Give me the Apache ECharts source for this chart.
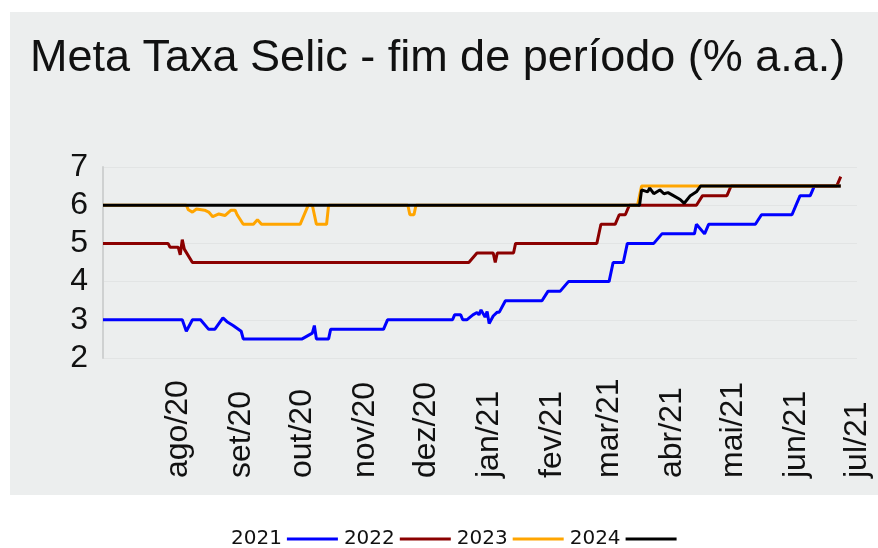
<!DOCTYPE html>
<html>
<head>
<meta charset="utf-8">
<script src="https://cdn.jsdelivr.net/npm/echarts@6/dist/echarts.min.js"></script>
<style>
  html, body { margin: 0; padding: 0; background: #ffffff; }
  #bg { position: absolute; left: 10px; top: 12px; width: 868px; height: 483px; background: #eceeee; }
  #chart { position: absolute; left: 0; top: 0; width: 878px; height: 548px; }
</style>
</head>
<body>
<div id="bg"></div>
<div id="chart"></div>
<script>
// month tick labels
const monthTicks = ['2020-08-01', '2020-09-01', '2020-10-01', '2020-11-01', '2020-12-01', '2021-01-01',
  '2021-02-01', '2021-03-01', '2021-04-01', '2021-05-01', '2021-06-01', '2021-07-01'];
const monthLabels = ['ago/20', 'set/20', 'out/20', 'nov/20', 'dez/20', 'jan/21',
  'fev/21', 'mar/21', 'abr/21', 'mai/21', 'jun/21', 'jul/21'];

const seriesNames = ['2021', '2022', '2023', '2024'];

// 2021
const dates2021 = ['2020-06-25', '2020-08-03', '2020-08-05', '2020-08-08', '2020-08-12', '2020-08-16', '2020-08-19',
  '2020-08-23', '2020-08-25', '2020-08-28', '2020-09-01', '2020-09-02', '2020-10-01', '2020-10-06', '2020-10-07',
  '2020-10-08', '2020-10-14', '2020-10-15', '2020-11-10', '2020-11-12', '2020-12-14', '2020-12-15', '2020-12-18',
  '2020-12-19', '2020-12-21', '2020-12-24', '2020-12-26', '2020-12-27', '2020-12-28', '2020-12-30', '2020-12-31',
  '2021-01-01', '2021-01-03', '2021-01-05', '2021-01-06', '2021-01-09', '2021-01-27', '2021-01-30', '2021-02-05',
  '2021-02-09', '2021-03-01', '2021-03-03', '2021-03-08', '2021-03-10', '2021-03-23', '2021-03-27', '2021-04-12',
  '2021-04-13', '2021-04-17', '2021-04-19', '2021-05-12', '2021-05-15', '2021-05-30', '2021-06-01', '2021-06-03',
  '2021-06-08', '2021-06-10', '2021-06-23'];
const values2021 = [3.0, 3.0, 2.7, 3.0, 3.0, 2.75, 2.75,
  3.05, 2.95, 2.85, 2.7, 2.5, 2.5, 2.65, 2.85,
  2.5, 2.5, 2.75, 2.75, 3.0, 3.0, 3.13, 3.13,
  3.0, 3.0, 3.13, 3.19, 3.13, 3.26, 3.07, 3.22,
  2.9, 3.1, 3.2, 3.2, 3.5, 3.5, 3.75, 3.75,
  4.0, 4.0, 4.5, 4.5, 5.0, 5.0, 5.25, 5.25,
  5.5, 5.25, 5.5, 5.5, 5.75, 5.75, 6.0, 6.25,
  6.25, 6.5, 6.5];

// 2022
const dates2022 = ['2020-06-25', '2020-07-27', '2020-07-28', '2020-08-01', '2020-08-02', '2020-08-03', '2020-08-04',
  '2020-08-08', '2020-12-22', '2020-12-26', '2021-01-03', '2021-01-04', '2021-01-05', '2021-01-13', '2021-01-14',
  '2021-02-23', '2021-02-25', '2021-03-04', '2021-03-06', '2021-03-09', '2021-03-11', '2021-04-13', '2021-04-16',
  '2021-04-28', '2021-04-30', '2021-06-21', '2021-06-23'];
const values2022 = [5.0, 5.0, 4.9, 4.9, 4.7, 5.1, 4.85,
  4.5, 4.5, 4.75, 4.75, 4.5, 4.75, 4.75, 5.0,
  5.0, 5.5, 5.5, 5.75, 5.75, 6.0, 6.0, 6.25,
  6.25, 6.5, 6.5, 6.75];

// 2023
const dates2023 = ['2020-06-25', '2020-08-05', '2020-08-06', '2020-08-08', '2020-08-10', '2020-08-14', '2020-08-16',
  '2020-08-18', '2020-08-21', '2020-08-24', '2020-08-27', '2020-08-29', '2020-08-30', '2020-09-02', '2020-09-07',
  '2020-09-09', '2020-09-11', '2020-09-30', '2020-10-04', '2020-10-06', '2020-10-08', '2020-10-13', '2020-10-14',
  '2020-11-22', '2020-11-23', '2020-11-25', '2020-11-26', '2021-03-15', '2021-03-17', '2021-06-23'];
const values2023 = [6.0, 6.0, 5.88, 5.82, 5.9, 5.87, 5.82,
  5.7, 5.77, 5.73, 5.87, 5.87, 5.75, 5.5, 5.5,
  5.62, 5.5, 5.5, 6.0, 6.0, 5.5, 5.5, 6.0,
  6.0, 5.75, 5.75, 6.0, 6.0, 6.5, 6.5];

// 2024
const dates2024 = ['2020-06-25', '2021-03-16', '2021-03-17', '2021-03-20', '2021-03-21', '2021-03-23', '2021-03-26',
  '2021-03-28', '2021-03-30', '2021-04-01', '2021-04-05', '2021-04-07', '2021-04-10', '2021-04-13', '2021-04-15',
  '2021-06-23'];
const values2024 = [6.0, 6.0, 6.4, 6.35, 6.45, 6.3, 6.4,
  6.3, 6.33, 6.27, 6.15, 6.05, 6.25, 6.35, 6.5,
  6.5];

const colors = ['#0000ff', '#8b0000', '#ffa500', '#000000'];

function toTime(s) {
  const p = s.split('-');
  return Date.UTC(+p[0], +p[1] - 1, +p[2]);
}
function pairs(d, v) {
  return d.map((x, i) => [toTime(x), v[i]]);
}
const allData = [pairs(dates2021, values2021), pairs(dates2022, values2022),
  pairs(dates2023, values2023), pairs(dates2024, values2024)];

const tickTimes = monthTicks.map(toTime);

let chart = echarts.init(document.getElementById('chart'), null, {renderer: 'canvas'});
let option = {
  backgroundColor: 'transparent',
  animation: false,
  title: {
    text: 'Meta Taxa Selic - fim de período (% a.a.)',
    left: 25,
    top: 31,
    textStyle: {
      fontFamily: 'Liberation Sans',
      fontSize: 45,
      fontWeight: 'normal',
      color: '#111111'
    }
  },
  legend: {
    data: seriesNames,
    left: 226,
    top: 524,
    align: 'right',
    icon: 'rect',
    itemWidth: 51,
    itemHeight: 3,
    itemGap: 6,
    textStyle: {
      fontFamily: 'DejaVu Sans',
      fontSize: 20,
      color: '#111111'
    }
  },
  grid: {
    left: 103,
    right: 21,
    top: 167,
    bottom: 190
  },
  xAxis: {
    type: 'value',
    min: toTime('2020-06-25'),
    max: toTime('2021-07-01'),
    axisLine: {show: false},
    axisTick: {show: false},
    splitLine: {show: false},
    axisLabel: {
      customValues: tickTimes,
      rotate: 90,
      align: 'left',
      verticalAlign: 'middle',
      margin: 120,
      fontFamily: 'Liberation Sans',
      fontSize: 32,
      color: '#111111',
      formatter: function (val) {
        let i = tickTimes.indexOf(val);
        return i >= 0 ? monthLabels[i] : '';
      }
    }
  },
  yAxis: {
    type: 'value',
    min: 2,
    max: 7,
    interval: 1,
    axisLine: {show: true, lineStyle: {color: '#cfd1d1', width: 2}},
    axisTick: {show: false},
    splitLine: {show: true, lineStyle: {color: '#e2e4e4', width: 1}},
    axisLabel: {
      margin: 15,
      fontFamily: 'Liberation Sans',
      fontSize: 32,
      color: '#111111'
    }
  },
  series: seriesNames.map((name, i) => ({
    name: name,
    type: 'line',
    data: allData[i],
    symbol: 'none',
    color: colors[i],
    lineStyle: {color: colors[i], width: 3},
    z: 2 + i
  }))
};
chart.setOption(option);
</script>
</body>
</html>
